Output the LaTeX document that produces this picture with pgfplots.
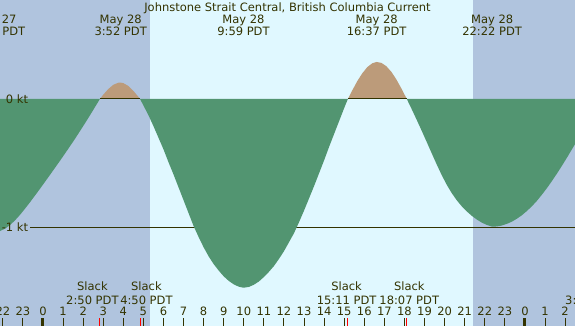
\documentclass[border=0pt]{standalone}
\usepackage{fontspec}
\setmainfont{DejaVu Sans}
\usepackage{pgfplots}
\pgfplotsset{compat=1.18}
\definecolor{night}{RGB}{176,196,222}
\definecolor{day}{RGB}{224,248,255}
\definecolor{ebb}{RGB}{82,149,113}
\definecolor{flood}{RGB}{188,155,122}
\definecolor{txt}{RGB}{51,51,0}
\newcommand\lf{\fontsize{11.5pt}{11.5pt}\selectfont}
\begin{document}
\begin{tikzpicture}
\begin{axis}[
  scale only axis, width=575pt, height=326pt,
  xmin=-2.1414, xmax=26.494, ymin=-1.7597, ymax=0.7674,
  axis line style={draw=none},
  axis background/.style={fill=day},
  axis on top,
  ytick=\empty,
  xtick={-2,...,26},
  xticklabels={22,23,0,1,2,3,4,5,6,7,8,9,10,11,12,13,14,15,16,17,18,19,20,21,22,23,0,1,2},
  xtick pos=left,
  tick align=inside,
  major tick length=8pt,
  major tick style={color=txt, line width=1pt},
  xticklabel style={font=\lf, text=txt, anchor=base, yshift=10.3pt},
  extra x ticks={0,24},
  extra x tick labels={},
  extra x tick style={major tick style={color=txt, line width=3pt}},
]
% night shading
\addplot[fill=night, draw=none] coordinates {(-2.5,-2) (-2.5,1) (5.329,1) (5.329,-2)};
\addplot[fill=night, draw=none] coordinates {(21.40,-2) (21.40,1) (27,1) (27,-2)};
% -1 kt line
\addplot[txt, line width=1pt] coordinates {(-0.645,-1) (26.6,-1)};
% ebb 1
\addplot[fill=ebb, draw=none] coordinates {
(-2.4,0) (-2.4,-1.032) (-2.15,-1.024) (-1.9,-1.006) (-1.65,-0.978) (-1.4,-0.942) (-1.15,-0.899)
(-0.9,-0.851) (-0.65,-0.801) (-0.4,-0.749) (-0.15,-0.696) (0.1,-0.642) (0.35,-0.588)
(0.6,-0.533) (0.85,-0.478) (1.1,-0.422) (1.35,-0.365) (1.6,-0.307) (1.85,-0.247)
(2.1,-0.186) (2.35,-0.124) (2.6,-0.060) (2.833,0)};
% flood 1
\addplot[fill=flood, draw=none] coordinates {
(2.833,0) (3.0,0.033) (3.25,0.077) (3.5,0.110) (3.75,0.126) (3.867,0.127) (4.0,0.123)
(4.25,0.101) (4.5,0.063) (4.7,0.026) (4.833,0)};
% ebb 2
\addplot[fill=ebb, draw=none] coordinates {
(4.833,0) (5.0,-0.05) (5.25,-0.125) (5.5,-0.21) (5.75,-0.30) (6.0,-0.39) (6.25,-0.49)
(6.5,-0.585) (6.75,-0.685) (7.0,-0.785) (7.25,-0.885) (7.5,-0.985) (7.75,-1.07) (8.0,-1.15)
(8.25,-1.22) (8.5,-1.28) (8.75,-1.33) (9.0,-1.375) (9.25,-1.41) (9.5,-1.437) (9.75,-1.455)
(9.983,-1.463) (10.25,-1.457) (10.5,-1.44) (10.75,-1.415) (11.0,-1.38) (11.25,-1.34)
(11.5,-1.295) (11.75,-1.24) (12.0,-1.18) (12.25,-1.11) (12.5,-1.04) (12.75,-0.955)
(13.0,-0.865) (13.25,-0.77) (13.5,-0.675) (13.75,-0.575) (14.0,-0.475) (14.25,-0.37)
(14.5,-0.27) (14.75,-0.17) (15.0,-0.07) (15.183,0)};
% flood 2
\addplot[fill=flood, draw=none] coordinates {
(15.183,0) (15.4,0.066) (15.65,0.138) (15.9,0.199) (16.15,0.247) (16.4,0.277) (16.617,0.287)
(16.85,0.280) (17.1,0.254) (17.35,0.210) (17.6,0.151) (17.85,0.081) (18.117,0)};
% ebb 3
\addplot[fill=ebb, draw=none] coordinates {
(18.117,0) (18.35,-0.075) (18.6,-0.158) (18.85,-0.243) (19.1,-0.33) (19.35,-0.418) (19.6,-0.505)
(19.85,-0.588) (20.1,-0.663) (20.35,-0.728) (20.6,-0.784) (20.85,-0.831) (21.1,-0.871)
(21.35,-0.905) (21.6,-0.934) (21.85,-0.958) (22.1,-0.976) (22.367,-0.99) (22.6,-0.988)
(22.85,-0.981) (23.1,-0.968) (23.35,-0.951) (23.6,-0.928) (23.85,-0.901) (24.1,-0.868)
(24.35,-0.831) (24.6,-0.789) (24.85,-0.741) (25.1,-0.690) (25.35,-0.635) (25.6,-0.577)
(25.85,-0.516) (26.1,-0.453) (26.35,-0.388) (26.6,-0.323) (26.6,0)};
% zero line under floods
\addplot[txt, line width=1pt] coordinates {(2.833,0) (4.833,0)};
\addplot[txt, line width=1pt] coordinates {(15.183,0) (18.117,0)};
% slack ticks
\addplot[red, line width=1pt] coordinates {(2.833,-1.7597) (2.833,-1.6977)};
\addplot[red, line width=1pt] coordinates {(4.833,-1.7597) (4.833,-1.6977)};
\addplot[red, line width=1pt] coordinates {(15.183,-1.7597) (15.183,-1.6977)};
\addplot[red, line width=1pt] coordinates {(18.117,-1.7597) (18.117,-1.6977)};
% texts
\begin{scope}[every node/.style={font=\lf, text=txt, inner sep=0pt}]
\node[anchor=base] at (12.176,0.6767) {Johnstone Strait Central, British Columbia Current};
\node[anchor=base] at (-2.37,0.5814) {May 27};
\node[anchor=base] at (-2.37,0.4907) {21:40 PDT};
\node[anchor=base] at (3.867,0.5814) {May 28};
\node[anchor=base] at (3.867,0.4907) {3:52 PDT};
\node[anchor=base] at (9.983,0.5814) {May 28};
\node[anchor=base] at (9.983,0.4907) {9:59 PDT};
\node[anchor=base] at (16.617,0.5814) {May 28};
\node[anchor=base] at (16.617,0.4907) {16:37 PDT};
\node[anchor=base] at (22.367,0.5814) {May 28};
\node[anchor=base] at (22.367,0.4907) {22:22 PDT};
\node[anchor=base east] at (-0.732,-0.0388) {0 kt};
\node[anchor=base east] at (-0.732,-1.0287) {-1 kt};
\node[anchor=base] at (2.46,-1.486) {Slack};
\node[anchor=base] at (2.46,-1.5915) {2:50 PDT};
\node[anchor=base] at (5.15,-1.486) {Slack};
\node[anchor=base] at (5.15,-1.5915) {4:50 PDT};
\node[anchor=base] at (15.12,-1.486) {Slack};
\node[anchor=base] at (15.12,-1.5915) {15:11 PDT};
\node[anchor=base] at (18.24,-1.486) {Slack};
\node[anchor=base] at (18.24,-1.5915) {18:07 PDT};
\node[anchor=base] at (27.31,-1.486) {Slack};
\node[anchor=base] at (27.31,-1.5915) {3:20 PDT};
\end{scope}
\end{axis}
\pgfresetboundingbox
\useasboundingbox (current axis.south west) rectangle (current axis.north east);
\end{tikzpicture}
\end{document}
